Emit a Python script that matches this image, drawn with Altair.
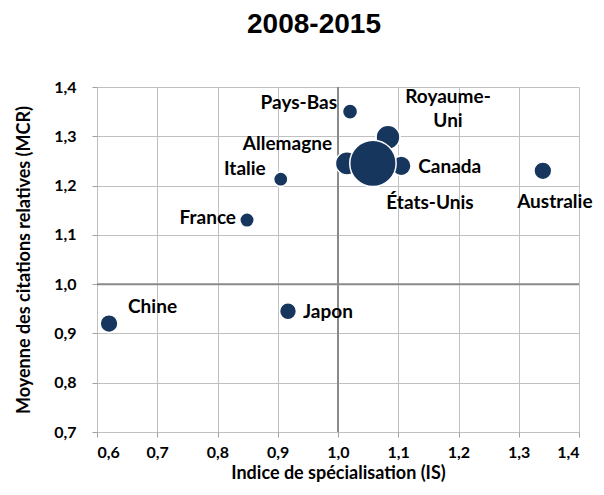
import altair as alt
import pandas as pd

pays = ["Chine", "Japon", "France", "Italie", "Pays-Bas", "Royaume-\nUni",
        "Allemagne", "Canada", "Australie", "États-Unis"]
indice_is = [0.62, 0.917, 0.849, 0.905, 1.02, 1.083, 1.015, 1.105, 1.34, 1.058]
mcr = [0.92, 0.945, 1.13, 1.213, 1.35, 1.298, 1.245, 1.24, 1.23, 1.245]
poids = [100, 90, 66, 64, 72, 180, 170, 121, 100, 680]

# label placement (styling): pixel offset from point, alignment
label_dx = [19, 15, -11, -15, -13, 60, -15, 17, 12, 57]
label_dy = [-17, 1, -2, -10, -9, -40, -19, 1, 31, 40]
label_align = ["left", "left", "right", "right", "right", "center",
               "right", "left", "center", "center"]

df = pd.DataFrame({"pays": pays, "IS": indice_is, "MCR": mcr, "poids": poids,
                   "ordre": list(range(len(pays)))})

FONT = "Lato"
fr = "replace(format(datum.value, '.1f'), '.', ',')"

x_enc = alt.X("IS:Q", scale=alt.Scale(domain=[0.6, 1.4], nice=False, zero=False),
              axis=alt.Axis(values=[0.6, 0.7, 0.8, 0.9, 1.0, 1.1, 1.2, 1.3, 1.4],
                            labelExpr=fr, title="Indice de spécialisation (IS)",
                            grid=True, gridColor="#c0c0c0", domain=False,
                            tickColor="#a0a0a0", tickSize=5, labelPadding=7,
                            labelFont=FONT, labelFontSize=16, labelFontWeight="bold",
                            labelColor="black", titleFont=FONT, titleFontSize=18,
                            titleFontWeight="bold", titleColor="black", titlePadding=4))
y_enc = alt.Y("MCR:Q", scale=alt.Scale(domain=[0.7, 1.4], nice=False, zero=False),
              axis=alt.Axis(values=[0.7, 0.8, 0.9, 1.0, 1.1, 1.2, 1.3, 1.4],
                            labelExpr=fr, title="Moyenne des citations relatives (MCR)",
                            grid=True, gridColor="#c0c0c0", domain=False,
                            tickColor="#a0a0a0", tickSize=5, labelPadding=16,
                            labelFont=FONT, labelFontSize=16, labelFontWeight="bold",
                            labelColor="black", titleFont=FONT, titleFontSize=18,
                            titleFontWeight="bold", titleColor="black", titlePadding=20))

base = alt.Chart(df)

cross_v = alt.Chart(pd.DataFrame({"v": [1.0]})).mark_rule(color="#8a8a8a", strokeWidth=2).encode(
    x=alt.X("v:Q", scale=alt.Scale(domain=[0.6, 1.4], nice=False, zero=False)))
cross_h = alt.Chart(pd.DataFrame({"v": [1.0]})).mark_rule(color="#8a8a8a", strokeWidth=2).encode(
    y=alt.Y("v:Q", scale=alt.Scale(domain=[0.7, 1.4], nice=False, zero=False)))

points = base.mark_circle(color="#17365d", opacity=1, stroke="white", strokeWidth=1.5).encode(
    x=x_enc, y=y_enc,
    size=alt.Size("poids:Q", scale=alt.Scale(domain=[0, 680], range=[0, 2150]), legend=None),
    order=alt.Order("ordre:Q"))

labels = []
for i, p in enumerate(pays):
    labels.append(
        alt.Chart(df.iloc[[i]]).mark_text(
            dx=label_dx[i], dy=label_dy[i], align=label_align[i], baseline="middle",
            font=FONT, fontSize=19, fontWeight="bold", color="black", lineBreak="\n",
            lineHeight=24
        ).encode(x="IS:Q", y="MCR:Q", text="pays:N")
    )

chart = alt.layer(points, cross_v, cross_h, points, *labels).properties(
    width=482, height=345,
    title=alt.TitleParams("2008-2015", font="Liberation Sans", fontSize=28,
                          fontWeight="bold", color="black", anchor="middle",
                          offset=40, dx=-24),
    autosize=alt.AutoSizeParams(type="none"),
    padding={"left": 89, "top": 79, "right": 17, "bottom": 55},
).configure_view(stroke=None)

chart.save("out.html", embed_options={"renderer": "svg", "actions": False})
